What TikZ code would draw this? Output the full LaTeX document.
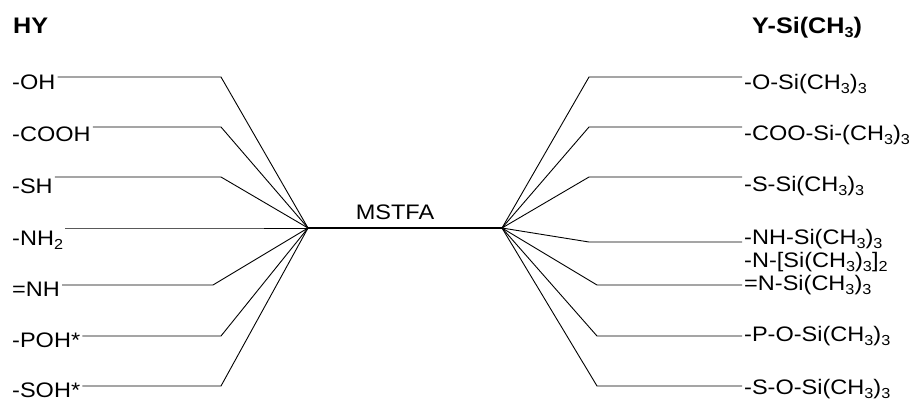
\documentclass[tikz,border=0pt]{standalone}
\usepackage{fontspec}
\setmainfont[FakeStretch=1.12]{Liberation Sans}
\usetikzlibrary{positioning}
\tikzset{
  lab/.style  ={anchor=base west,inner sep=2pt,font=\fontsize{21}{25}\selectfont},
  head/.style ={lab,font=\fontsize{22.5}{26}\selectfont\bfseries},
  ed/.style   ={draw=black,line width=0.9pt},
  bar/.style  ={draw=black,line width=2.8pt},
}
\newcommand{\sbs}[1]{\raisebox{-4.5pt}{\fontsize{14.5}{15}\selectfont #1}}

\begin{document}
\begin{tikzpicture}[x=1pt,y=-1pt]
\useasboundingbox (0,0) rectangle (917,400);
%% headers
\node[head] (hy)  at (11,33)  {HY};
\node[head] (ysi) at (750,33) {Y-Si(CH\sbs{3})};
%% the reagent bar
\coordinate (hl) at (308,228);
\coordinate (hr) at (502,228);
\draw[bar] (hl) -- (hr);
\node[lab,anchor=base] (mstfa) at (395,219) {MSTFA};
%% left: groups HY
\foreach \i/\yb/\ly/\bx/\txt in {
    1/89/77/221/{-OH},
    2/141/127/221/{-COOH},
    3/193/177/221/{-SH},
    4/245/228/221/{-NH\sbs{2}},
    5/296/285/213/{=NH},
    6/347/336/221/{-POH*},
    7/397/386/221/{-SOH*}}{%
  \node[lab] (l\i) at (10,\yb) {\txt};
  \coordinate (lb\i) at (\bx,\ly);
  \draw[ed] (l\i.east |- lb\i) -- (lb\i) -- (hl);
}
%% right: silylated groups
\foreach \i/\yb/\ly/\bx/\txt in {
    1/89/77/589/{-O-Si(CH\sbs{3})\sbs{3}},
    2/140/127/589/{-COO-Si-(CH\sbs{3})\sbs{3}},
    3/191/177/589/{-S-Si(CH\sbs{3})\sbs{3}},
    4/244/242/589/{-NH-Si(CH\sbs{3})\sbs{3}},
    6/290/285/597/{=N-Si(CH\sbs{3})\sbs{3}},
    7/341/336/597/{-P-O-Si(CH\sbs{3})\sbs{3}},
    8/394/386/597/{-S-O-Si(CH\sbs{3})\sbs{3}}}{%
  \node[lab] (r\i) at (742,\yb) {\txt};
  \coordinate (rb\i) at (\bx,\ly);
  \draw[ed] (hr) -- (rb\i) -- (rb\i -| r\i.west);
}
\node[lab] (r5) at (742,267) {-N-[Si(CH\sbs{3})\sbs{3}]\sbs{2}};
\end{tikzpicture}
\end{document}
